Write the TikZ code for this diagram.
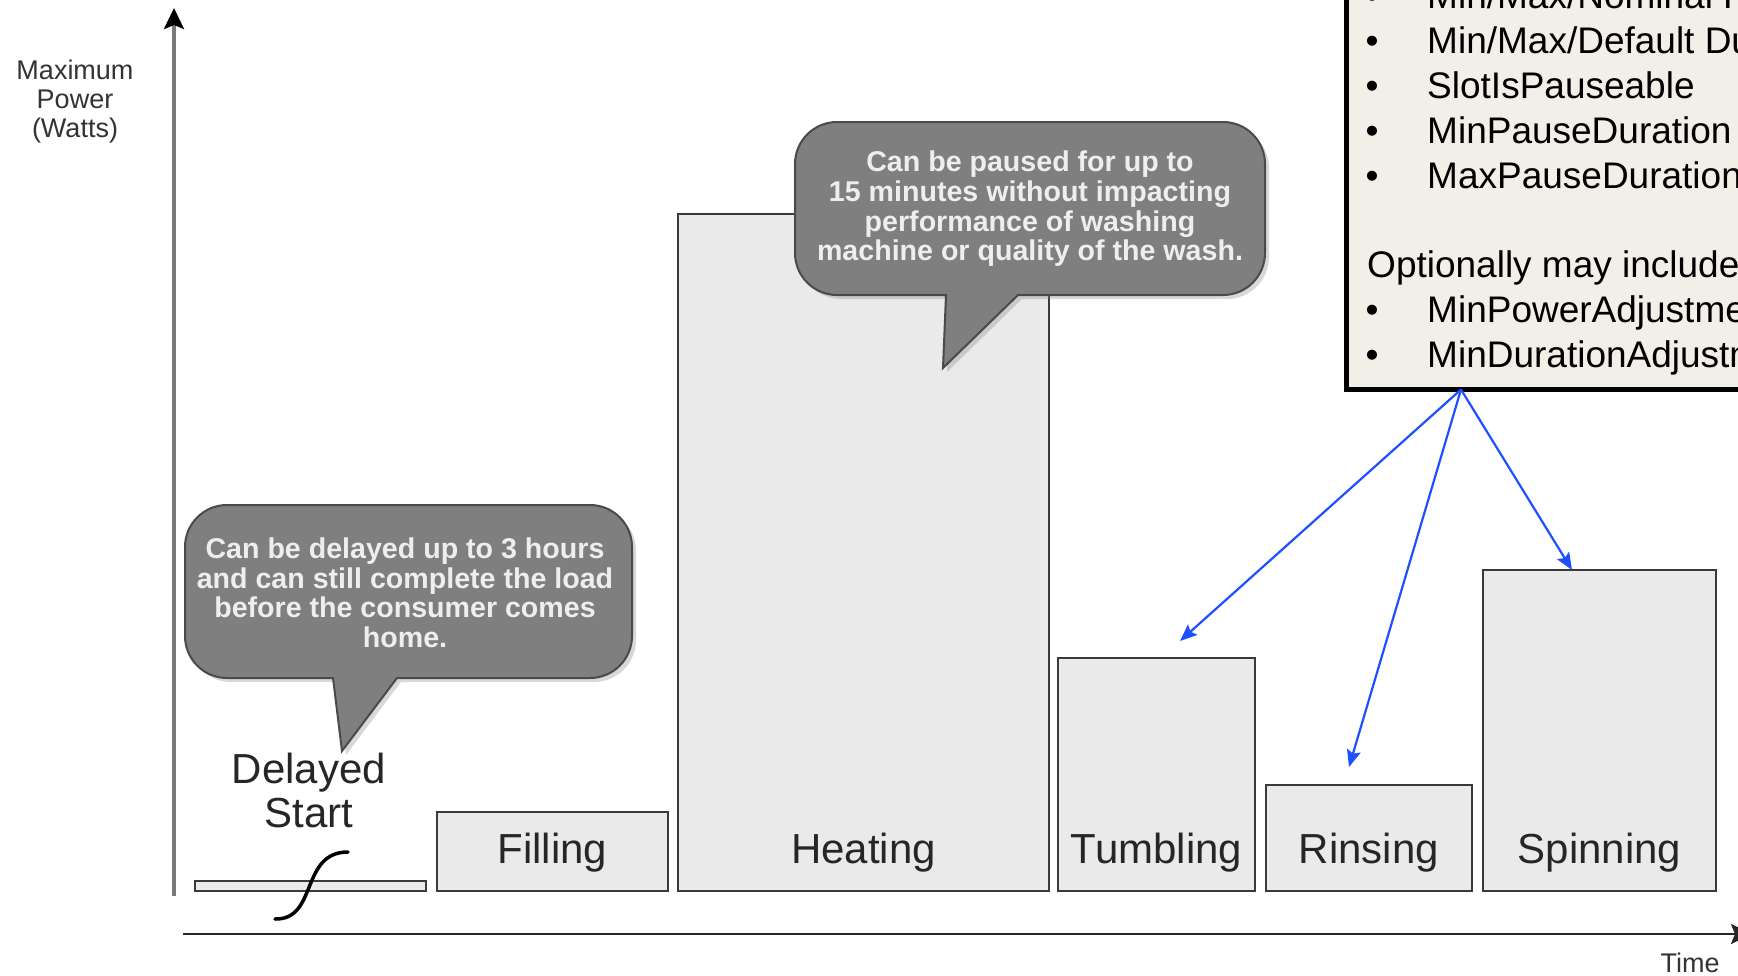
\documentclass[tikz,border=0pt]{standalone}
\usepackage{fontspec}
\setmainfont{Liberation Sans}
\usetikzlibrary{arrows.meta,shadows}
\definecolor{barfill}{HTML}{EAEAEA}
\definecolor{barline}{HTML}{3A3A3A}
\definecolor{bubblefill}{HTML}{7F7F7F}
\definecolor{bubbleline}{HTML}{4A4A4A}
\definecolor{bubbletext}{HTML}{EEEEEE}
\definecolor{infofill}{HTML}{F2EFE8}
\definecolor{arrowblue}{HTML}{1E50FF}
\definecolor{yaxisgray}{HTML}{7A7A7A}
\begin{document}
\begin{tikzpicture}[x=1pt,y=-1pt,
  bar/.style={draw=barline, fill=barfill, line width=2.5pt, inner sep=0pt, outer sep=0pt},
  barlabel/.style={anchor=base, font=\fontsize{42}{44}\selectfont, text=black!85, inner sep=0pt},
  bubble/.style={draw=bubbleline, fill=bubblefill, line width=2pt, drop shadow={shadow xshift=4pt, shadow yshift=-4pt, opacity=0.3}},
  bubbletxt/.style={anchor=base, font=\fontsize{28.6}{30}\selectfont\bfseries, text=bubbletext, inner sep=0pt},
  axislabel/.style={anchor=base, font=\fontsize{27}{29}\selectfont, text=black!80, inner sep=0pt},
  infotxt/.style={anchor=base west, font=\fontsize{37}{45}\selectfont, inner sep=0pt},
  bulletmark/.style={anchor=base, font=\fontsize{37}{45}\selectfont, inner sep=0pt},
  link/.style={draw=arrowblue, line width=2.2pt, -{Stealth[length=17pt,width=14pt,inset=3pt]}}
]
\useasboundingbox (0,0) rectangle (1738,975);
\clip (0,0) rectangle (1738,975);
\fill[white] (0,0) rectangle (1738,975);

% axes
\draw[yaxisgray, line width=3.5pt, -{Stealth[length=21pt,width=20pt,inset=4pt,color=black]}] (174,896) -- (174,8);
\draw[black!85, line width=2.5pt, -{Stealth[length=21pt,width=20pt,inset=4pt]}] (183,934) -- (1752,934);
\node[axislabel] (ylab1) at (75,79) {Maximum};
\node[axislabel] (ylab2) at (75,108) {Power};
\node[axislabel] (ylab3) at (75,137) {(Watts)};
\node[axislabel] (xlab) at (1690,972) {Time};

% bars
\node[bar, minimum width=231pt, minimum height=10pt] (delayed) at (310.5,886) {};
\node[bar, minimum width=231pt, minimum height=79pt] (filling) at (552.5,851.5) {};
\node[bar, minimum width=371pt, minimum height=677pt] (heating) at (863.5,552.5) {};
\node[bar, minimum width=197pt, minimum height=233pt] (tumbling) at (1156.5,774.5) {};
\node[bar, minimum width=206pt, minimum height=106pt] (rinsing) at (1369,838) {};
\node[bar, minimum width=233pt, minimum height=321pt] (spinning) at (1599.5,730.5) {};

\node[barlabel] (lfilling) at (552.5,863) {Filling};
\node[barlabel] (lheating) at (863.5,863) {Heating};
\node[barlabel] (ltumbling) at (1156.5,863) {Tumbling};
\node[barlabel] (lrinsing) at (1369,863) {Rinsing};
\node[barlabel] (lspinning) at (1599.5,863) {Spinning};
\node[barlabel] (ldelayed1) at (309,783) {Delayed};
\node[barlabel] (ldelayed2) at (309,827) {Start};

% delay curve
\draw[line width=3.5pt, line cap=round] (275,919) .. controls (318,920) and (300,852) .. (348,852);

% bubbles
\path[bubble] (342,751) -- (397,678) [rounded corners=42pt] -- (632,678) -- (632,505) -- (185,505) -- (185,678) [sharp corners] -- (333,678) -- cycle;
\node[bubbletxt] (b1l1) at (405,558) {Can be delayed up to 3 hours};
\node[bubbletxt] (b1l2) at (405,588) {and can still complete the load};
\node[bubbletxt] (b1l3) at (405,617) {before the consumer comes};
\node[bubbletxt] (b1l4) at (405,647) {home.};

\path[bubble] (943,368) -- (1018,295) [rounded corners=42pt] -- (1265,295) -- (1265,122) -- (795,122) -- (795,295) [sharp corners] -- (946,295) -- cycle;
\node[bubbletxt] (b2l1) at (1030,171) {Can be paused for up to};
\node[bubbletxt] (b2l2) at (1030,201) {15 minutes without impacting};
\node[bubbletxt] (b2l3) at (1030,231) {performance of washing};
\node[bubbletxt] (b2l4) at (1030,260) {machine or quality of the wash.};

% info box
\node[draw=black, fill=infofill, line width=5pt, inner sep=0pt, outer sep=0pt, minimum width=440pt, minimum height=440pt, anchor=south west] (info) at (1346.5,389.5) {};
\node[bulletmark] (bu1) at (1372,8) {•};
\node[infotxt] (i1) at (1427,8) {Min/Max/Nominal Power};
\node[bulletmark] (bu2) at (1372,53) {•};
\node[infotxt] (i2) at (1427,53) {Min/Max/Default Duration};
\node[bulletmark] (bu3) at (1372,98) {•};
\node[infotxt] (i3) at (1427,98) {SlotIsPauseable};
\node[bulletmark] (bu4) at (1372,143) {•};
\node[infotxt] (i4) at (1427,143) {MinPauseDuration};
\node[bulletmark] (bu5) at (1372,188) {•};
\node[infotxt] (i5) at (1427,188) {MaxPauseDuration};
\node[infotxt] (i6) at (1367,277) {Optionally may include:};
\node[bulletmark] (bu7) at (1372,322) {•};
\node[infotxt] (i7) at (1427,322) {MinPowerAdjustment};
\node[bulletmark] (bu8) at (1372,367) {•};
\node[infotxt] (i8) at (1427,367) {MinDurationAdjustment};

% arrows
\coordinate (src) at ([xshift=114.5pt]info.south west);
\draw[link] (src) -- ([xshift=23.5pt,yshift=17pt]tumbling.north);
\draw[link] (src) -- ([xshift=-20pt,yshift=18pt]rinsing.north);
\draw[link] (src) -- ([xshift=-27.5pt,yshift=0pt]spinning.north);
\end{tikzpicture}
\end{document}
